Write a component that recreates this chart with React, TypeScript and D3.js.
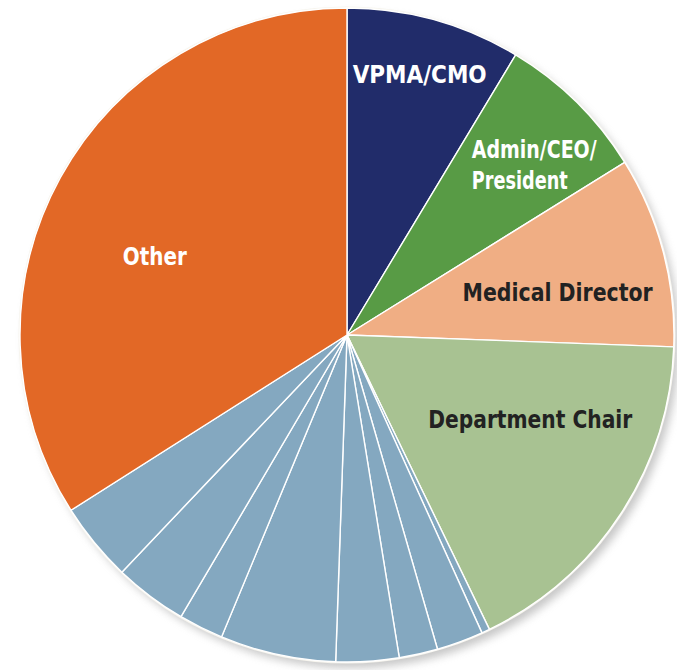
import React from "react";
import * as d3 from "d3";

// ---- data (share of respondents) ----
const categories = [
  "VPMA/CMO",
  "Admin/CEO/President",
  "Medical Director",
  "Department Chair",
  "Other role 1",
  "Other role 2",
  "Other role 3",
  "Other role 4",
  "Other role 5",
  "Other role 6",
  "Other role 7",
  "Other role 8",
  "Other",
];
const values = [8.6, 7.5, 9.4, 17.2, 0.4, 2.3, 1.9, 3.1, 5.7, 2.2, 3.6, 3.9, 33.9];
const labelLines: string[][] = [
  ["VPMA/CMO"],
  ["Admin/CEO/", "President"],
  ["Medical Director"],
  ["Department Chair"],
  [], [], [], [], [], [], [], [],
  ["Other"],
];

// ---- styles / layout ----
const W = 677;
const H = 670;
const CX = 347;
const CY = 335;
const R = 327;
const colors = [
  "#212c6a", "#589b45", "#f0ae84", "#a8c292",
  "#84a8c0", "#84a8c0", "#84a8c0", "#84a8c0",
  "#84a8c0", "#84a8c0", "#84a8c0", "#84a8c0",
  "#e26826",
];
const textColors = ["#ffffff", "#ffffff", "#222222", "#222222", "", "", "", "", "", "", "", "", "#ffffff"];
// label placement: radius fraction along slice's mid angle, plus nudge; widths for condensed face
const labelLayout: Record<number, { rf: number; dx: number; dy: number; anchor: string; widths: number[]; lh: number }> = {
  0: { rf: 0.83, dx: 0, dy: 9, anchor: "middle", widths: [134], lh: 0 },
  1: { rf: 0.774, dx: -53, dy: 3, anchor: "start", widths: [125, 96], lh: 31 },
  2: { rf: 0.657, dx: 3, dy: 21, anchor: "middle", widths: [190], lh: 0 },
  3: { rf: 0.618, dx: 14, dy: -17, anchor: "middle", widths: [204], lh: 0 },
  12: { rf: 0.636, dx: -10, dy: 30, anchor: "middle", widths: [64], lh: 0 },
};

export default function App() {
  const data = categories.map((c, i) => ({ name: c, value: values[i], i }));
  const pie = d3
    .pie<{ name: string; value: number; i: number }>()
    .sort(null)
    .value((d) => d.value);
  const arcs = pie(data);
  const arcGen = d3
    .arc<d3.PieArcDatum<{ name: string; value: number; i: number }>>()
    .innerRadius(0)
    .outerRadius(R);

  return (
    <svg
      width={W}
      height={H}
      style={{ position: "absolute", left: 0, top: 0, background: "#ffffff" }}
    >
      <defs>
        <filter id="shadow" x="-10%" y="-10%" width="120%" height="120%">
          <feGaussianBlur stdDeviation="4" />
        </filter>
      </defs>
      <circle cx={CX + 5} cy={CY + 6} r={R} fill="#9a9a9a" opacity={0.55} filter="url(#shadow)" />
      <circle cx={CX} cy={CY} r={R + 1.5} fill="#f7f5ee" />
      <g transform={`translate(${CX},${CY})`}>
        {arcs.map((a, i) => (
          <path key={i} d={arcGen(a) || ""} fill={colors[i]} stroke="#ffffff" strokeWidth={1.4} strokeLinejoin="round" />
        ))}
        {arcs.map((a, i) => {
          const lay = labelLayout[i];
          if (!lay || labelLines[i].length === 0) return null;
          const r = R * lay.rf;
          const c = d3.arc<any>().innerRadius(r).outerRadius(r).centroid(a);
          const x = c[0] + lay.dx;
          const y = c[1] + lay.dy;
          return (
            <text
              key={"t" + i}
              x={x}
              y={y}
              fill={textColors[i]}
              textAnchor={lay.anchor}
              style={{
                fontFamily: "'Liberation Sans Narrow', 'DejaVu Sans Condensed', 'Roboto', sans-serif",
                fontSize: 25,
                fontWeight: 700,
              }}
            >
              {labelLines[i].map((ln, k) => (
                <tspan
                  key={k}
                  x={x}
                  y={y + k * lay.lh}
                  textLength={lay.widths[k]}
                  lengthAdjust="spacingAndGlyphs"
                >
                  {ln}
                </tspan>
              ))}
            </text>
          );
        })}
      </g>
    </svg>
  );
}
